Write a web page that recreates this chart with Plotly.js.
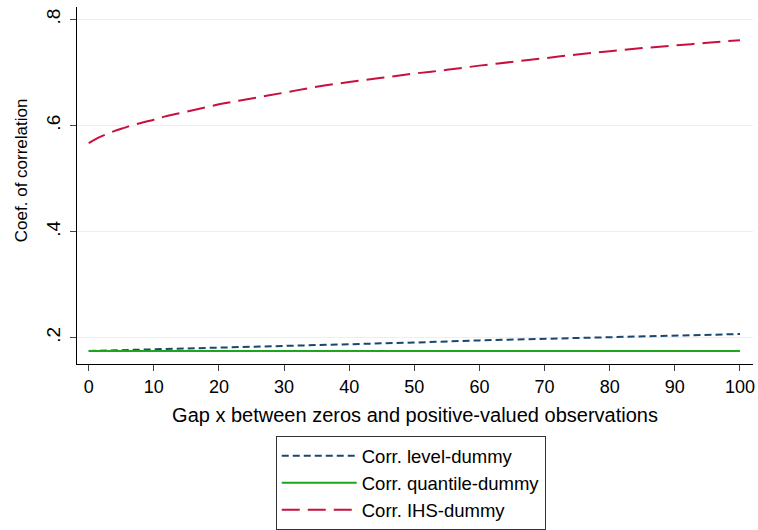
<!DOCTYPE html>
<html>
<head>
<meta charset="utf-8">
<script src="https://cdn.plot.ly/plotly-3.0.1.min.js"></script>
<style>html,body{margin:0;padding:0;background:#fff;}#chart{width:758px;height:530px;}</style>
</head>
<body>
<div id="chart"></div>
<script>
const ihsX = [0,1,2,3,4,5,6,8,10,12,15,20,25,30,35,40,45,50,55,60,65,70,75,80,85,90,95,100];
const ihsY = [0.567,0.574,0.580,0.585,0.590,0.594,0.598,0.605,0.611,0.618,0.626,0.640,0.651,0.662,0.673,0.682,0.690,0.698,0.705,0.713,0.720,0.727,0.734,0.740,0.746,0.751,0.756,0.761];
const levelX = [0,10,20,30,40,50,60,70,80,90,100];
const levelY = [0.175,0.178,0.182,0.185,0.188,0.191,0.195,0.198,0.201,0.204,0.207];
const quantX = [0,10,20,30,40,50,60,70,80,90,100];
const quantY = [0.175,0.175,0.175,0.175,0.175,0.175,0.175,0.175,0.175,0.175,0.175];
const yTickVals = [0.2,0.4,0.6,0.8];
const yTickText = ['.2','.4','.6','.8'];
const xTickVals = [0,10,20,30,40,50,60,70,80,90,100];
const yTitle = 'Coef. of correlation';
const xTitle = 'Gap x between zeros and positive-valued observations';

const font = {family: 'Liberation Sans, Arial, sans-serif', color: '#000'};

const traces = [
  {x: levelX, y: levelY, mode: 'lines', name: 'Corr. level-dummy',
   line: {color: '#1a476f', width: 2, dash: '7px,4px'}},
  {x: quantX, y: quantY, mode: 'lines', name: 'Corr. quantile-dummy',
   line: {color: '#1da51d', width: 2}},
  {x: ihsX, y: ihsY, mode: 'lines', name: 'Corr. IHS-dummy', line: {color: '#c8103e', width: 2, dash: '18px,8px', shape: 'spline'}}
];

const layout = {
  width: 758, height: 530,
  margin: {l: 77, r: 5, t: 7, b: 166, autoexpand: false},
  paper_bgcolor: '#fff', plot_bgcolor: '#fff',
  font: Object.assign({size: 16}, font),
  showlegend: true,
  legend: {
    x: 0.294, y: -0.202, xanchor: 'left', yanchor: 'top',
    bordercolor: '#333', borderwidth: 1,
    font: Object.assign({size: 18.5}, font),
    itemwidth: 75, tracegroupgap: 0
  },
  xaxis: {
    range: [-1.8, 102], tickvals: xTickVals,
    showline: true, linecolor: '#000', linewidth: 1,
    ticks: 'outside', ticklen: 6, tickcolor: '#444', tickwidth: 1,
    showgrid: false, zeroline: false,
    tickfont: Object.assign({size: 18}, font),
    title: {text: xTitle, font: Object.assign({size: 20}, font), standoff: 12}
  },
  yaxis: {
    range: [0.1505, 0.8235], tickvals: yTickVals, ticktext: yTickText,
    tickangle: -90,
    showline: true, linecolor: '#000', linewidth: 1,
    ticks: 'outside', ticklen: 6, tickcolor: '#444', tickwidth: 1,
    ticklabelstandoff: 2,
    showgrid: true, gridcolor: '#e8f0f2', gridwidth: 1, zeroline: false,
    tickfont: Object.assign({size: 19}, font)
  },
  annotations: [{
    text: yTitle, xref: 'paper', yref: 'paper',
    x: -0.0828, y: 0.543, xanchor: 'center', yanchor: 'middle',
    textangle: -90, showarrow: false,
    font: Object.assign({size: 17}, font)
  }]
};

Plotly.newPlot('chart', traces, layout, {displayModeBar: false, staticPlot: true});
</script>
</body>
</html>
